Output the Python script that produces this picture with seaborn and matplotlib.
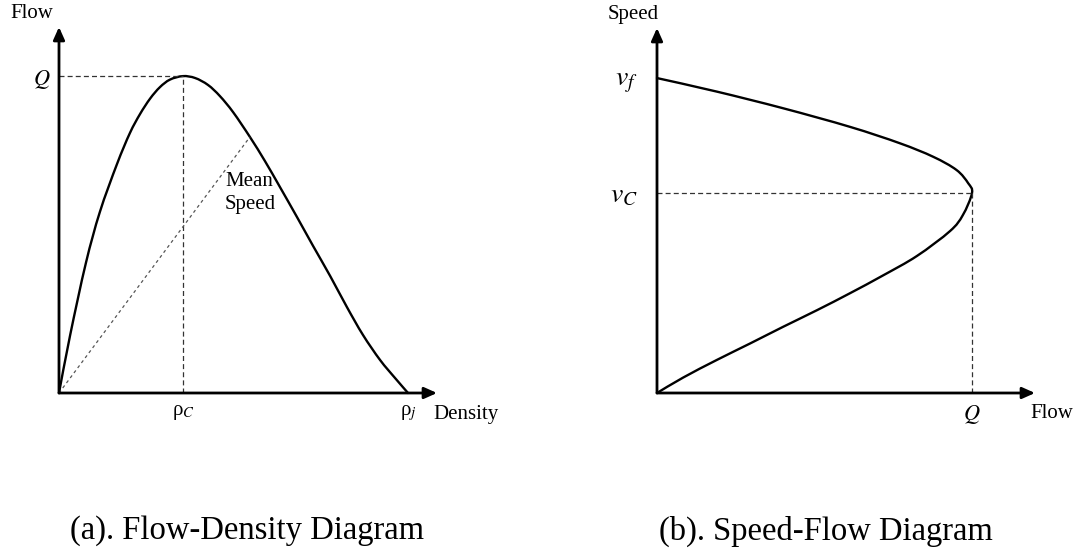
import matplotlib
matplotlib.use("Agg")
import matplotlib.pyplot as plt
import numpy as np
import seaborn as sns
from matplotlib.path import Path
from matplotlib.patches import PathPatch

# Fundamental diagram: flow against density (normalised so that rho_j = 100, Q = 100)
density = [0, 3.2, 7.7, 11.7, 16.6, 20.3, 23.2, 26.1, 28.9, 31.8, 35.5, 39.0, 42.7,
           46.1, 49.9, 54.7, 59.0, 63.3, 68.2, 72.8, 77.7, 82.5, 87.1, 92.0, 96.3, 100]
flow_d = [0, 18.3, 41.0, 57.1, 72.2, 82.0, 88.0, 92.9, 96.5, 98.9, 100, 99.4, 97.2,
          93.7, 88.6, 80.8, 73.2, 65.0, 55.5, 46.4, 36.9, 27.1, 18.3, 10.4, 4.7, 0]

# Critical / jam density, capacity, and the point used for the mean-speed ray
rho_c = 35.5
rho_j = 100.0
Q = 100.0
mean_speed_pt = (54.7, 80.8)

# Speed-flow relation (normalised so that v_f = 100, Q = 100)
flow_s = [0, 19.0, 40.1, 61.3, 77.1, 87.7, 95.1, 98.8, 100, 97.1, 93.0, 82.5,
          71.7, 61.3, 50.8, 40.0, 29.5, 19.0, 8.3, 0]
speed = [100, 95.7, 90.4, 84.5, 79.3, 75.0, 70.8, 66.6, 63.5, 56.5, 51.4, 43.5,
         37.3, 31.7, 26.3, 21.0, 15.7, 10.5, 4.9, 0]
v_f = 100.0
v_c = 63.5

W, H = 1076, 552

sns.set_theme(style="white")
plt.rcParams["font.family"] = ["Liberation Serif", "DejaVu Serif"]
plt.rcParams["mathtext.fontset"] = "stix"
plt.rcParams["text.color"] = "black"
plt.rcParams["xtick.color"] = "black"
plt.rcParams["ytick.color"] = "black"

fig = plt.figure(figsize=(W / 100, H / 100), dpi=100)


def frac(x, y):
    return x / W, 1 - y / H


def axes_at(x0, y0, x1, y1):
    return fig.add_axes([x0 / W, 1 - y0 / H, (x1 - x0) / W, (y0 - y1) / H])


def draw_axes_arrows(ax, xmax, ymax):
    style = dict(arrowstyle="-|>,head_length=0.38,head_width=0.17", mutation_scale=20,
                 lw=2.0, color="black", shrinkA=0, shrinkB=0)
    ax.annotate("", xy=(xmax, 0), xytext=(0, 0), arrowprops=style, annotation_clip=False)
    ax.annotate("", xy=(0, ymax), xytext=(0, 0), arrowprops=style, annotation_clip=False)


def smooth_curve(ax, xs, ys, **kw):
    """Draw a smooth curve through the given points (Catmull-Rom as cubic Beziers)."""
    pts = np.column_stack([xs, ys]).astype(float)
    verts = [pts[0]]
    codes = [Path.MOVETO]
    n = len(pts)
    for i in range(n - 1):
        p0 = pts[i - 1] if i > 0 else pts[i]
        p1, p2 = pts[i], pts[i + 1]
        p3 = pts[i + 2] if i + 2 < n else pts[i + 1]
        verts += [p1 + (p2 - p0) / 6.0, p2 - (p3 - p1) / 6.0, p2]
        codes += [Path.CURVE4] * 3
    patch = PathPatch(Path(verts, codes), facecolor="none", transform=ax.transData,
                      clip_on=False, capstyle="round", joinstyle="round", **kw)
    ax.add_patch(patch)


FS = 15
dash = dict(color="#333333", lw=0.9, ls=(0, (4, 2.5)), clip_on=False)

# ---------- (a) flow-density ----------
axL = axes_at(59, 393, 437, 27)
xmaxL, ymaxL = 108.3, 115.5
axL.set_xlim(0, xmaxL)
axL.set_ylim(0, ymaxL)
sns.despine(ax=axL, left=True, bottom=True)

axL.plot([0, rho_c], [Q, Q], **dash)
axL.plot([rho_c, rho_c], [0, Q], **dash)
sns.lineplot(x=[0, mean_speed_pt[0]], y=[0, mean_speed_pt[1]], ax=axL, color="#555555",
             lw=0.9, ls=(0, (2.5, 2.5)), clip_on=False, estimator=None)
smooth_curve(axL, density, flow_d, edgecolor="black", lw=1.7)
draw_axes_arrows(axL, xmaxL, ymaxL)

axL.set_xticks([rho_c, rho_j], labels=["ρ$_{C}$", "ρ$_{j}$"])
axL.set_yticks([Q], labels=["$Q$"])
axL.tick_params(axis="x", bottom=False, length=0, pad=7, labelsize=FS)
axL.tick_params(axis="y", left=False, length=0, pad=6, labelsize=16)
axL.set_xlabel("")
axL.set_ylabel("")
axL.grid(False)

fig.text(*frac(32, 14), "Flow", fontsize=FS, ha="center", va="center")
fig.text(*frac(433, 415), "Density", fontsize=FS, ha="left", va="center")
fig.text(*frac(225, 193), "Mean\nSpeed", fontsize=FS, ha="left", va="center",
         linespacing=1.3)

# ---------- (b) speed-flow ----------
axR = axes_at(657, 393, 1035, 28)
xmaxR, ymaxR = 120.0, 115.9
axR.set_xlim(0, xmaxR)
axR.set_ylim(0, ymaxR)
sns.despine(ax=axR, left=True, bottom=True)

axR.plot([0, Q], [v_c, v_c], **dash)
axR.plot([Q, Q], [0, v_c], **dash)
smooth_curve(axR, flow_s, speed, edgecolor="black", lw=1.7)
draw_axes_arrows(axR, xmaxR, ymaxR)

axR.set_xticks([Q], labels=["$Q$"])
axR.set_yticks([v_f, v_c], labels=["$v_f$", "$v_C$"])
axR.tick_params(axis="x", bottom=False, length=0, pad=7, labelsize=16)
axR.tick_params(axis="y", left=False, length=0, pad=14, labelsize=20)
axR.set_xlabel("")
axR.set_ylabel("")
axR.grid(False)

fig.text(*frac(633, 15), "Speed", fontsize=FS, ha="center", va="center")
fig.text(*frac(1030, 414), "Flow", fontsize=FS, ha="left", va="center")

# ---------- captions ----------
fig.text(*frac(247, 531), "(a). Flow-Density Diagram", fontsize=23.5, ha="center", va="center")
fig.text(*frac(826, 531), "(b). Speed-Flow Diagram", fontsize=23.5, ha="center", va="center")

fig.savefig("out.png", dpi=100)
